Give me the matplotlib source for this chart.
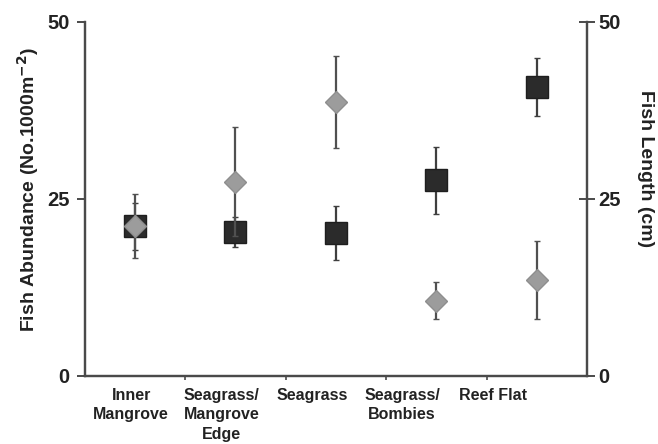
import matplotlib
matplotlib.use("Agg")
import matplotlib.pyplot as plt
import numpy as np

plt.rcParams['font.family'] = ['Liberation Sans', 'DejaVu Sans']
plt.rcParams['font.weight'] = 'bold'

categories = ["Inner\nMangrove", "Seagrass/\nMangrove\nEdge", "Seagrass",
              "Seagrass/\nBombies", "Reef Flat"]
abundance = [21.1, 20.3, 20.2, 27.6, 40.8]
abundance_err = [3.3, 2.1, 3.8, 4.7, 4.1]
length = [21.1, 27.4, 38.7, 10.6, 13.5]
length_err = [4.5, 7.7, 6.5, 2.6, 5.5]
yticks = [0, 25, 50]

fig = plt.figure(figsize=(6.58, 4.44), dpi=100)
ax = fig.add_axes([0.129, 0.154, 0.763, 0.797])
ax2 = ax.twinx()

x = np.arange(len(categories))
ecol = '#3f3f3f'
ax.errorbar(x, abundance, yerr=abundance_err, fmt='s', ms=16,
            mfc='#2b2b2b', mec='#1e1e1e', mew=1.0, ecolor=ecol,
            elinewidth=1.6, capsize=2.3, capthick=2.2, zorder=3)
ax2.errorbar(x, length, yerr=length_err, fmt='D', ms=11.5,
             mfc='#9c9c9c', mec='#8e8e8e', mew=1.0, ecolor='#505050',
             elinewidth=1.6, capsize=2.3, capthick=2.2, zorder=4)

for a in (ax, ax2):
    a.set_ylim(0, 50)
    a.set_xlim(-0.5, len(categories) - 0.5)
    a.set_yticks(yticks)
    a.spines['top'].set_visible(False)
    for s in ('left', 'right', 'bottom'):
        a.spines[s].set_color('#4a4a4a')
        a.spines[s].set_linewidth(1.6)

ax.tick_params(axis='y', direction='out', length=6, width=1.4, color='#4a4a4a',
               labelsize=14.5, pad=5)
ax2.tick_params(axis='y', direction='inout', length=11, width=1.4, color='#4a4a4a',
                labelsize=14.5, pad=3)
for lab in ax.get_yticklabels() + ax2.get_yticklabels():
    lab.set_fontweight('bold')
    lab.set_color('#222222')

# category labels (rendered slightly compressed as in the source figure)
label_pos = x * 0.9 - 0.04
ax.set_xticks(label_pos)
ax.set_xticklabels(categories, fontsize=11.5, fontweight='bold', color='#222222',
                   linespacing=1.35)
ax.tick_params(axis='x', which='major', length=0, pad=9)
ax.set_xticks(x[:-1] + 0.5, minor=True)
ax.tick_params(axis='x', which='minor', direction='out', length=3, width=1.2,
               color='#4a4a4a')

ax.set_ylabel("Fish Abundance (No.1000m$^{\\mathbf{-2}}$)", fontsize=14,
              fontweight='bold', color='#222222',
              ha='center', va='center', rotation_mode='anchor')
ax.yaxis.set_label_coords(-0.1135, 0.525)
ax2.set_ylabel("Fish Length (cm)", fontsize=14, fontweight='bold',
               color='#222222', rotation=270,
               ha='center', va='center', rotation_mode='anchor')
ax2.yaxis.set_label_coords(1.1175, 0.584)

fig.savefig("out.png", dpi=100)
